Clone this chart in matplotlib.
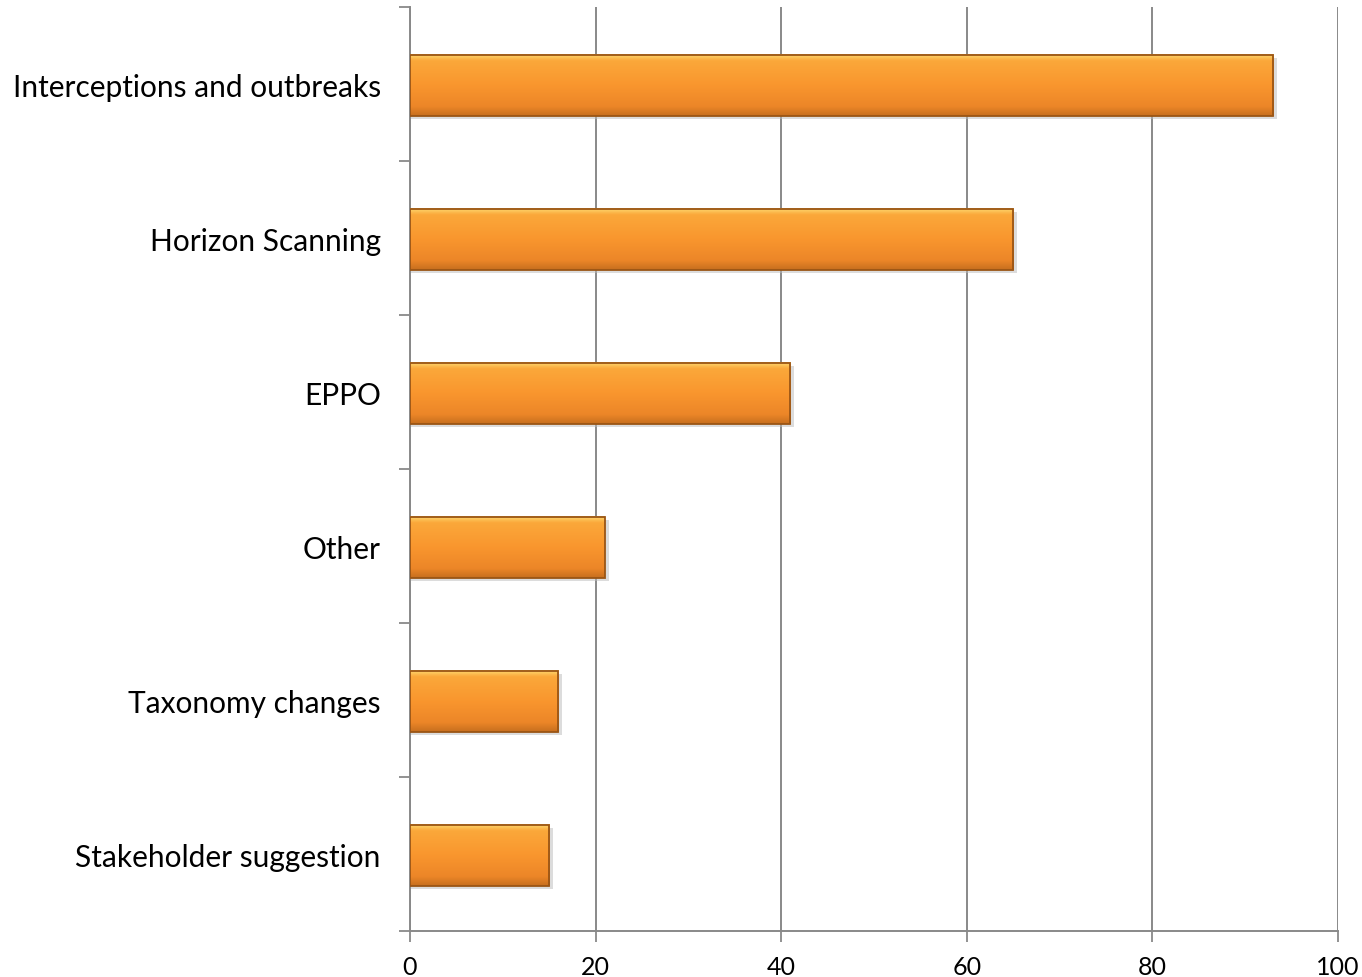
import numpy as np
import matplotlib.pyplot as plt
from matplotlib.colors import LinearSegmentedColormap
from matplotlib.patches import Rectangle

categories = ["Interceptions and outbreaks", "Horizon Scanning", "EPPO",
              "Other", "Taxonomy changes", "Stakeholder suggestion"]
values = [93, 65, 41, 21, 16, 15]
xticks = [0, 20, 40, 60, 80, 100]

plt.rcParams['font.family'] = ['Lato', 'DejaVu Sans']

fig = plt.figure(figsize=(13.62, 9.78), dpi=100)
ax = fig.add_axes([0.301, 0.047, 0.6814, 0.9448])

# vertical gradient for bevelled orange bars
grad = LinearSegmentedColormap.from_list(
    "bar", [(0.0, "#FDD870"), (0.1, "#FBA83A"), (0.5, "#F9962E"),
            (0.85, "#EC8628"), (1.0, "#C76F1E")])
g = np.linspace(0, 1, 100).reshape(-1, 1)

h = 0.4
ypos = np.arange(len(categories))
for y, v in zip(ypos, values):
    # soft shadow
    ax.add_patch(Rectangle((0, y - h / 2 + 0.03), v + 0.4, h, color="#bbbbbb",
                           alpha=0.5, lw=0, zorder=2))
    ax.imshow(g, cmap=grad, aspect="auto",
              extent=(0, v, y + h / 2 + 0.01, y - h / 2 + 0.01),
              zorder=3, interpolation="bicubic")
    ax.add_patch(Rectangle((0, y - h / 2 + 0.01), v, h, fill=False,
                           edgecolor="#9A5515", lw=1.3, zorder=4))

ax.set_xlim(0, 100)
ax.set_ylim(len(categories) - 0.5, -0.5)
ax.set_xticks(xticks)
ax.set_xticklabels([str(t) for t in xticks], fontsize=18)
ax.set_yticks(ypos)
ax.set_yticklabels(categories, fontsize=21.5)
ax.set_yticks(np.arange(-0.5, len(categories)), minor=True)

ax.tick_params(axis="y", which="major", length=0, pad=21)
ax.tick_params(axis="y", which="minor", length=8, width=1.3, color="#898989")
ax.tick_params(axis="x", length=8, width=1.3, color="#898989", pad=9)

ax.grid(axis="x", color="#898989", lw=1.4, zorder=1)
ax.set_axisbelow(True)
for s in ["top", "right"]:
    ax.spines[s].set_visible(False)
for s in ["left", "bottom"]:
    ax.spines[s].set_color("#898989")
    ax.spines[s].set_linewidth(1.4)

fig.savefig("out.png", dpi=100)
